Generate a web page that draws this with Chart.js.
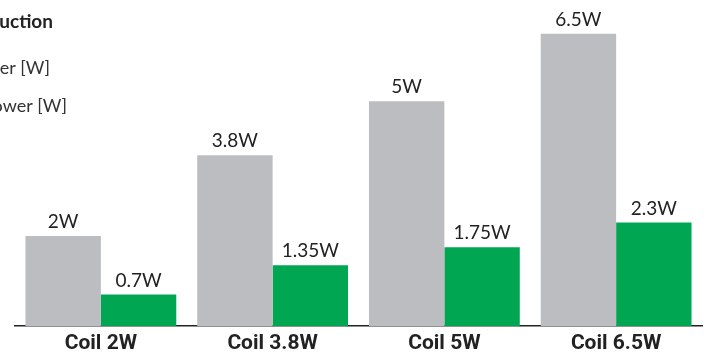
<!DOCTYPE html>
<html>
<head>
<meta charset="utf-8">
<script src="https://cdn.jsdelivr.net/npm/chart.js@4"></script>
<style>
  html, body { margin: 0; padding: 0; background: #fff; }
  #wrap { width: 715px; height: 359px; }
</style>
</head>
<body>
<div id="wrap"><canvas id="myChart" width="715" height="359"></canvas></div>
<script>
// data
const categories = ['Coil 2W', 'Coil 3.8W', 'Coil 5W', 'Coil 6.5W'];
const coilPower = [2, 3.8, 5, 6.5];
const holdingPower = [0.7, 1.35, 1.75, 2.3];
const unit = 'W';

// header text, cut at the left edge in the original picture
const titleText = 'uction';
const legendTexts = ['er [W]', 'ower [W]'];

const FONT = 'Lato, "Open Sans", sans-serif';

const barLabels = {
  id: 'barLabels',
  afterDatasetsDraw(chart) {
    const c = chart.ctx;
    c.save();
    c.font = '19px ' + FONT;
    c.fillStyle = '#222';
    c.textAlign = 'center';
    c.textBaseline = 'alphabetic';
    chart.data.datasets.forEach((ds, i) => {
      chart.getDatasetMeta(i).data.forEach((bar, j) => {
        c.fillText(ds.data[j] + unit, bar.x, bar.y - 8);
      });
    });
    c.restore();
  }
};

const header = {
  id: 'header',
  afterDraw(chart) {
    const c = chart.ctx;
    c.save();
    c.fillStyle = '#222';
    c.textAlign = 'right';
    c.font = 'bold 19px ' + FONT;
    c.fillText(titleText, 53, 28);
    c.font = '18px ' + FONT;
    c.fillStyle = '#333';
    c.fillText(legendTexts[0], 50, 74);
    c.fillText(legendTexts[1], 67, 112);
    c.restore();
  }
};

const ctx = document.getElementById('myChart').getContext('2d');

const chart = new Chart(ctx, {
  type: 'bar',
  data: {
    labels: categories,
    datasets: [{
      label: 'Coil power [W]',
      data: coilPower,
      backgroundColor: '#bcbdc0',
      barPercentage: 1,
      categoryPercentage: 0.878
    }, {
      label: 'Holding power [W]',
      data: holdingPower,
      backgroundColor: '#00a651',
      barPercentage: 1,
      categoryPercentage: 0.878
    }]
  },
  options: {
    responsive: false,
    animation: false,
    layout: { padding: { left: 15, right: 13, top: 0, bottom: -2 } },
    plugins: {
      legend: { display: false },
      title: { display: false },
      tooltip: { enabled: false }
    },
    scales: {
      x: {
        grid: { display: false, drawTicks: false },
        border: { display: true, color: '#222', width: 1.5 },
        ticks: {
          color: '#222',
          padding: 7,
          font: { family: '"Liberation Sans Narrow", "Roboto", sans-serif', size: 21, weight: 'bold', lineHeight: 1 }
        }
      },
      y: {
        display: false,
        min: 0,
        max: 7.25
      }
    }
  },
  plugins: [barLabels, header]
});
</script>
</body>
</html>
